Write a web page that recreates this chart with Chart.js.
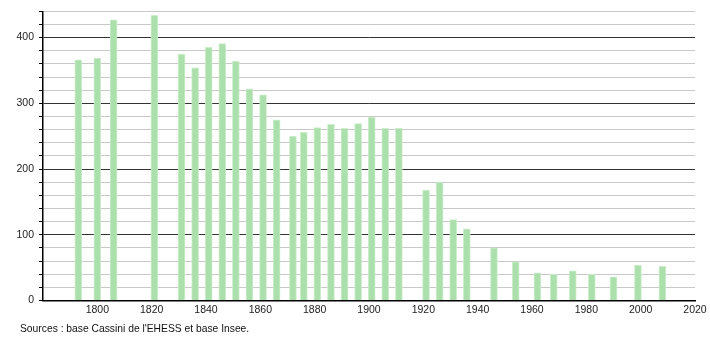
<!DOCTYPE html>
<html>
<head>
<meta charset="utf-8">
<script src="https://cdn.jsdelivr.net/npm/chart.js@4.4.0/dist/chart.umd.min.js"></script>
<style>
    body { margin: 0; background: #fff; }
    #wrap { position: relative; width: 710px; height: 340px; }
    #source {
        position: absolute; left: 20px; top: 323px;
        font: 10.3px "Liberation Sans", Arial, sans-serif; color: #111;
    }
</style>
</head>
<body>
<div id="wrap">
    <canvas id="pop-chart" width="710" height="340"></canvas>
    <div id="source">Sources : base Cassini de l'EHESS et base Insee.</div>
</div>
<script>
const years = [1793, 1800, 1806, 1821, 1831, 1836, 1841, 1846, 1851, 1856, 1861, 1866,
    1872, 1876, 1881, 1886, 1891, 1896, 1901, 1906, 1911, 1921, 1926, 1931, 1936,
    1946, 1954, 1962, 1968, 1975, 1982, 1990, 1999, 2008];
const population = [366, 369, 427, 434, 375, 354, 385, 391, 364, 322, 313, 275,
    250, 256, 263, 268, 262, 269, 279, 262, 262, 168, 180, 123, 109,
    80, 59, 42, 40, 45, 40, 36, 54, 52];
const yearTicks = [1800, 1820, 1840, 1860, 1880, 1900, 1920, 1940, 1960, 1980, 2000, 2020];
const popTicks = [0, 100, 200, 300, 400];

const tickFont = { family: '"Liberation Sans", Arial, sans-serif', size: 10.5 };

document.addEventListener('DOMContentLoaded', () => {
    let ctx = document.getElementById('pop-chart').getContext('2d');
    new Chart(ctx, {
        type: 'bar',
        data: {
            datasets: [{
                data: years.map((y, i) => ({ x: y, y: population[i] })),
                backgroundColor: '#abdfab',
                borderColor: 'rgba(200, 236, 200, 0.9)',
                borderWidth: 1,
                borderSkipped: 'bottom',
                barThickness: 7
            }]
        },
        options: {
            responsive: false,
            animation: false,
            layout: { padding: { top: 10.5, right: 15, left: 0, bottom: 0 } },
            plugins: { legend: { display: false }, tooltip: { enabled: false } },
            scales: {
                x: {
                    type: 'linear',
                    offset: false,
                    min: 1780,
                    max: 2020,
                    afterFit: s => { s.height = 39.5; },
                    afterBuildTicks: s => { s.ticks = yearTicks.map(v => ({ value: v })); },
                    grid: { display: false, drawTicks: false },
                    border: { color: '#000', width: 1.5 },
                    ticks: {
                        color: '#222', font: tickFont, padding: 3, maxRotation: 0,
                        autoSkip: false, callback: v => String(v)
                    }
                },
                y: {
                    min: 0,
                    max: 440,
                    afterFit: s => { s.width = 43; },
                    ticks: {
                        stepSize: 20,
                        autoSkip: false,
                        color: '#222',
                        font: tickFont,
                        padding: 5,
                        callback: v => popTicks.includes(v) ? String(v) : ''
                    },
                    grid: {
                        color: c => c.tick && c.tick.value % 100 === 0 ? '#333' : '#c8c8c8',
                        tickColor: '#000',
                        tickLength: 4,
                        lineWidth: 1
                    },
                    border: { color: '#000', width: 1.5 }
                }
            }
        }
    });
});
</script>
</body>
</html>
